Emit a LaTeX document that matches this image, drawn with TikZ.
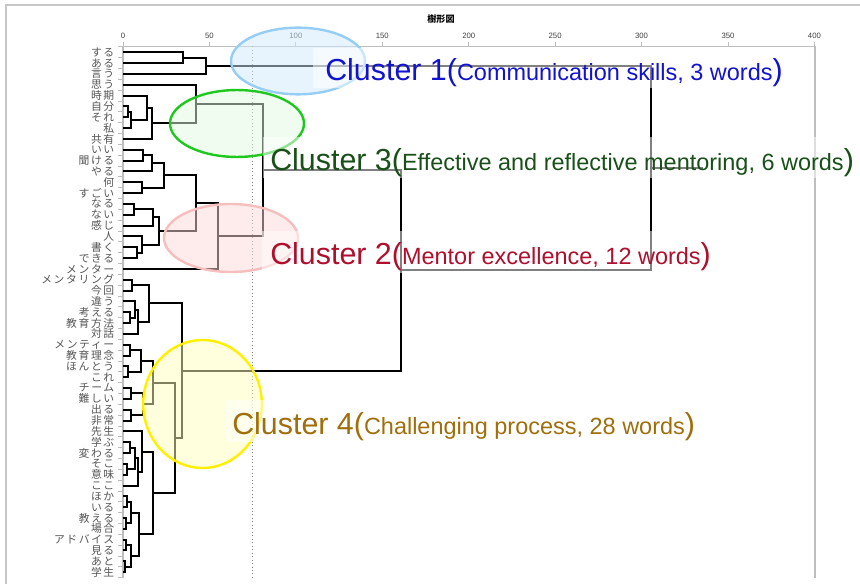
\documentclass[tikz,border=0pt]{standalone}
\usepackage{fontspec}
\setmainfont{Liberation Sans}
\newfontfamily\jpls[LetterSpace=15]{Noto Sans CJK JP}
\newfontfamily\jp{Noto Sans CJK JP}
\usetikzlibrary{calc}
\definecolor{leafgray}{RGB}{85,85,85}
\definecolor{axgray}{RGB}{190,190,190}
\definecolor{framegray}{RGB}{200,200,200}
\definecolor{cone}{RGB}{18,18,210}
\definecolor{ctwo}{RGB}{175,15,45}
\definecolor{cthree}{RGB}{25,80,25}
\definecolor{cfour}{RGB}{160,110,10}
\definecolor{bluestroke}{RGB}{150,205,245}
\definecolor{bluefill}{RGB}{210,234,252}
\definecolor{greenstroke}{RGB}{30,200,30}
\definecolor{greenfill}{RGB}{225,249,225}
\definecolor{pinkstroke}{RGB}{247,190,190}
\definecolor{pinkfill}{RGB}{253,215,215}
\definecolor{yellowstroke}{RGB}{255,240,0}
\definecolor{yellowfill}{RGB}{255,255,190}
\newcommand\mrg[4]{%
  \path let \p1=($(#2)!0.5!(#3)$), \p2=(#4,0) in coordinate (#1) at (\x2,\y1);
  \draw[dend] (#2) -| (#1) |- (#3);
}
\newcommand\bigf{\fontsize{22.8pt}{26pt}\selectfont}
\newcommand\smallf{\fontsize{17.6pt}{20pt}\selectfont}
\tikzset{
  dend/.style={draw=black, line width=1.5pt},
  lbl/.style={anchor=east, inner sep=0pt, text=leafgray, font=\jpls\fontsize{8.1pt}{8.5pt}\selectfont},
  ticklbl/.style={inner sep=0pt, text=black!75, font=\fontsize{5.8pt}{6pt}\selectfont},
  axisline/.style={draw=axgray, line width=1pt},
  wbox/.style={fill=white, fill opacity=0.5, draw=none},
  cltext/.style={anchor=base west, inner sep=0pt, font=\bigf},
  ell/.style={line width=1.8pt, fill opacity=0.5, draw opacity=1}
}
\begin{document}
\begin{tikzpicture}[x=0.75pt, y=-0.75pt]
\useasboundingbox (0,0) rectangle (860,584);
% outer frame
\draw[framegray, line width=1pt] (6,584) -- (6,5) -- (860,5);
% title
\node[inner sep=0pt, font=\jp\bfseries\fontsize{6.8pt}{7pt}\selectfont] (title) at (441,19) {樹形図};
% axes
\draw[axisline] (123,577.6) -- (123,46.5) -- (815,46.5) -- (815,577.6);
\foreach \v [count=\k from 0] in {0,50,...,400} {
  \draw[axisline, line width=0.7pt] ({123+1.7285*\v},42) -- ({123+1.7285*\v},46.5);
  \node[ticklbl] (tk\k) at ({123+1.7285*\v},36) {\v};
}
\foreach \k in {0,...,49} {
  \draw[axisline, line width=0.6pt] (118,{46.9+10.83*\k}) -- (123,{46.9+10.83*\k});
}
% cut line
\draw[gray, dotted, line width=0.6pt] (252,46.5) -- (252,577.6);
% leaves
\foreach \w [count=\i] in {する,ある,言う,思う,時期,自分,それ,私,共有,いい,聞ける,やる,何,すごい,なる,ない,感じ,人,書く,できる,メンター,メンタリング,今回,違う,考える,教育方法,対話,メンティー,教育理念,ほんとう,これ,チーム,難しい,出る,非常,先生,学ぶ,変わる,そこ,意味,ここ,ほか,いる,教える,場合,アドバイス,見る,あと,学生} {
  \coordinate (L\i) at (123,{52.3+10.83*(\i-1)});
  \node[lbl] (t\i) at (114.5,{52.3+10.83*(\i-1)}) {\w};
}
% cluster 1
\mrg{m12}{L1}{L2}{182.7}
\mrg{cA}{m12}{L3}{205.5}
% cluster 3
\mrg{m67}{L6}{L7}{128}
\mrg{m678}{m67}{L8}{131}
\mrg{m5t8}{L5}{m678}{146.7}
\mrg{m5t9}{m5t8}{L9}{151.7}
\mrg{cC}{L4}{m5t9}{195.5}
% cluster 2
\mrg{m1011}{L10}{L11}{143.3}
\mrg{m10t12}{m1011}{L12}{151.7}
\mrg{m1314}{L13}{L14}{141.7}
\mrg{m10t14}{m10t12}{m1314}{164.3}
\mrg{m1516}{L15}{L16}{134.3}
\mrg{m15t17}{m1516}{L17}{153.3}
\mrg{m1920}{L19}{L20}{136.7}
\mrg{m18t20}{L18}{m1920}{141.7}
\mrg{m15t20}{m15t17}{m18t20}{159.3}
\mrg{m10t20}{m10t14}{m15t20}{195.5}
\mrg{cB}{m10t20}{L21}{217.7}
\mrg{cBC}{cC}{cB}{263}
% cluster 4
\mrg{m2223}{L22}{L23}{132}
\mrg{m2526}{L25}{L26}{129.7}
\mrg{m24t26}{L24}{m2526}{135.3}
\mrg{m24t27}{m24t26}{L27}{137.5}
\mrg{m22t27}{m2223}{m24t27}{148.7}
\mrg{m2829}{L28}{L29}{129.7}
\mrg{m3031}{L30}{L31}{128}
\mrg{m28t31}{m2829}{m3031}{140.7}
\mrg{m3233}{L32}{L33}{130.7}
\mrg{m3435}{L34}{L35}{130.7}
\mrg{m32t35}{m3233}{m3435}{143}
\mrg{m28t35}{m28t31}{m32t35}{153.3}
\mrg{m3738}{L37}{L38}{130}
\mrg{m3940}{L39}{L40}{126.7}
\mrg{m37t40}{m3738}{m3940}{135}
\mrg{m37t41}{m37t40}{L41}{138.3}
\mrg{m36t41}{L36}{m37t41}{141.7}
\mrg{m4243}{L42}{L43}{127.3}
\mrg{m4445}{L44}{L45}{126.3}
\mrg{m42t45}{m4243}{m4445}{130.7}
\mrg{m4647}{L46}{L47}{126.3}
\mrg{m4849}{L48}{L49}{125.3}
\mrg{m46t49}{m4647}{m4849}{130.7}
\mrg{m42t49}{m42t45}{m46t49}{138.5}
\mrg{m36t49}{m36t41}{m42t49}{153.3}
\mrg{m28t49}{m28t35}{m36t49}{174.7}
\mrg{cD}{m22t27}{m28t49}{181.7}
% top
\mrg{mBCD}{cBC}{cD}{400.7}
\mrg{root}{cA}{mBCD}{651}
\coordinate (stub) at ($(root)+(52,0)$);
\draw[dend] (root) -- (stub);
% ellipses
\draw[ell, draw=bluestroke, fill=bluefill] (298,61) ellipse [x radius=50.25pt, y radius=25pt];
\draw[ell, draw=greenstroke, fill=greenfill] (237,123.5) ellipse [x radius=50.25pt, y radius=25.1pt];
\draw[ell, draw=pinkstroke, fill=pinkfill] (231,238) ellipse [x radius=50.25pt, y radius=25.5pt];
\draw[ell, draw=yellowstroke, fill=yellowfill] (202.5,404) ellipse [x radius=44.5pt, y radius=48pt];
% label boxes
\fill[wbox] (313,48) rectangle (790,88);
\fill[wbox] (263,137) rectangle (855,178);
\fill[wbox] (262,231) rectangle (715,273);
\fill[wbox] (225,400) rectangle (702,442);
% cluster labels
\node[cltext, text=cone] (c1) at (325,81) {Cluster 1(\smallf Communication skills, 3 words\bigf)};
\node[cltext, text=cthree] (c3) at (270,170.5) {Cluster 3(\smallf Effective and reflective mentoring, 6 words\bigf)};
\node[cltext, text=ctwo] (c2) at (270,265) {Cluster 2(\smallf Mentor excellence, 12 words\bigf)};
\node[cltext, text=cfour] (c4) at (232,434) {Cluster 4(\smallf Challenging process, 28 words\bigf)};
\end{tikzpicture}
\end{document}
